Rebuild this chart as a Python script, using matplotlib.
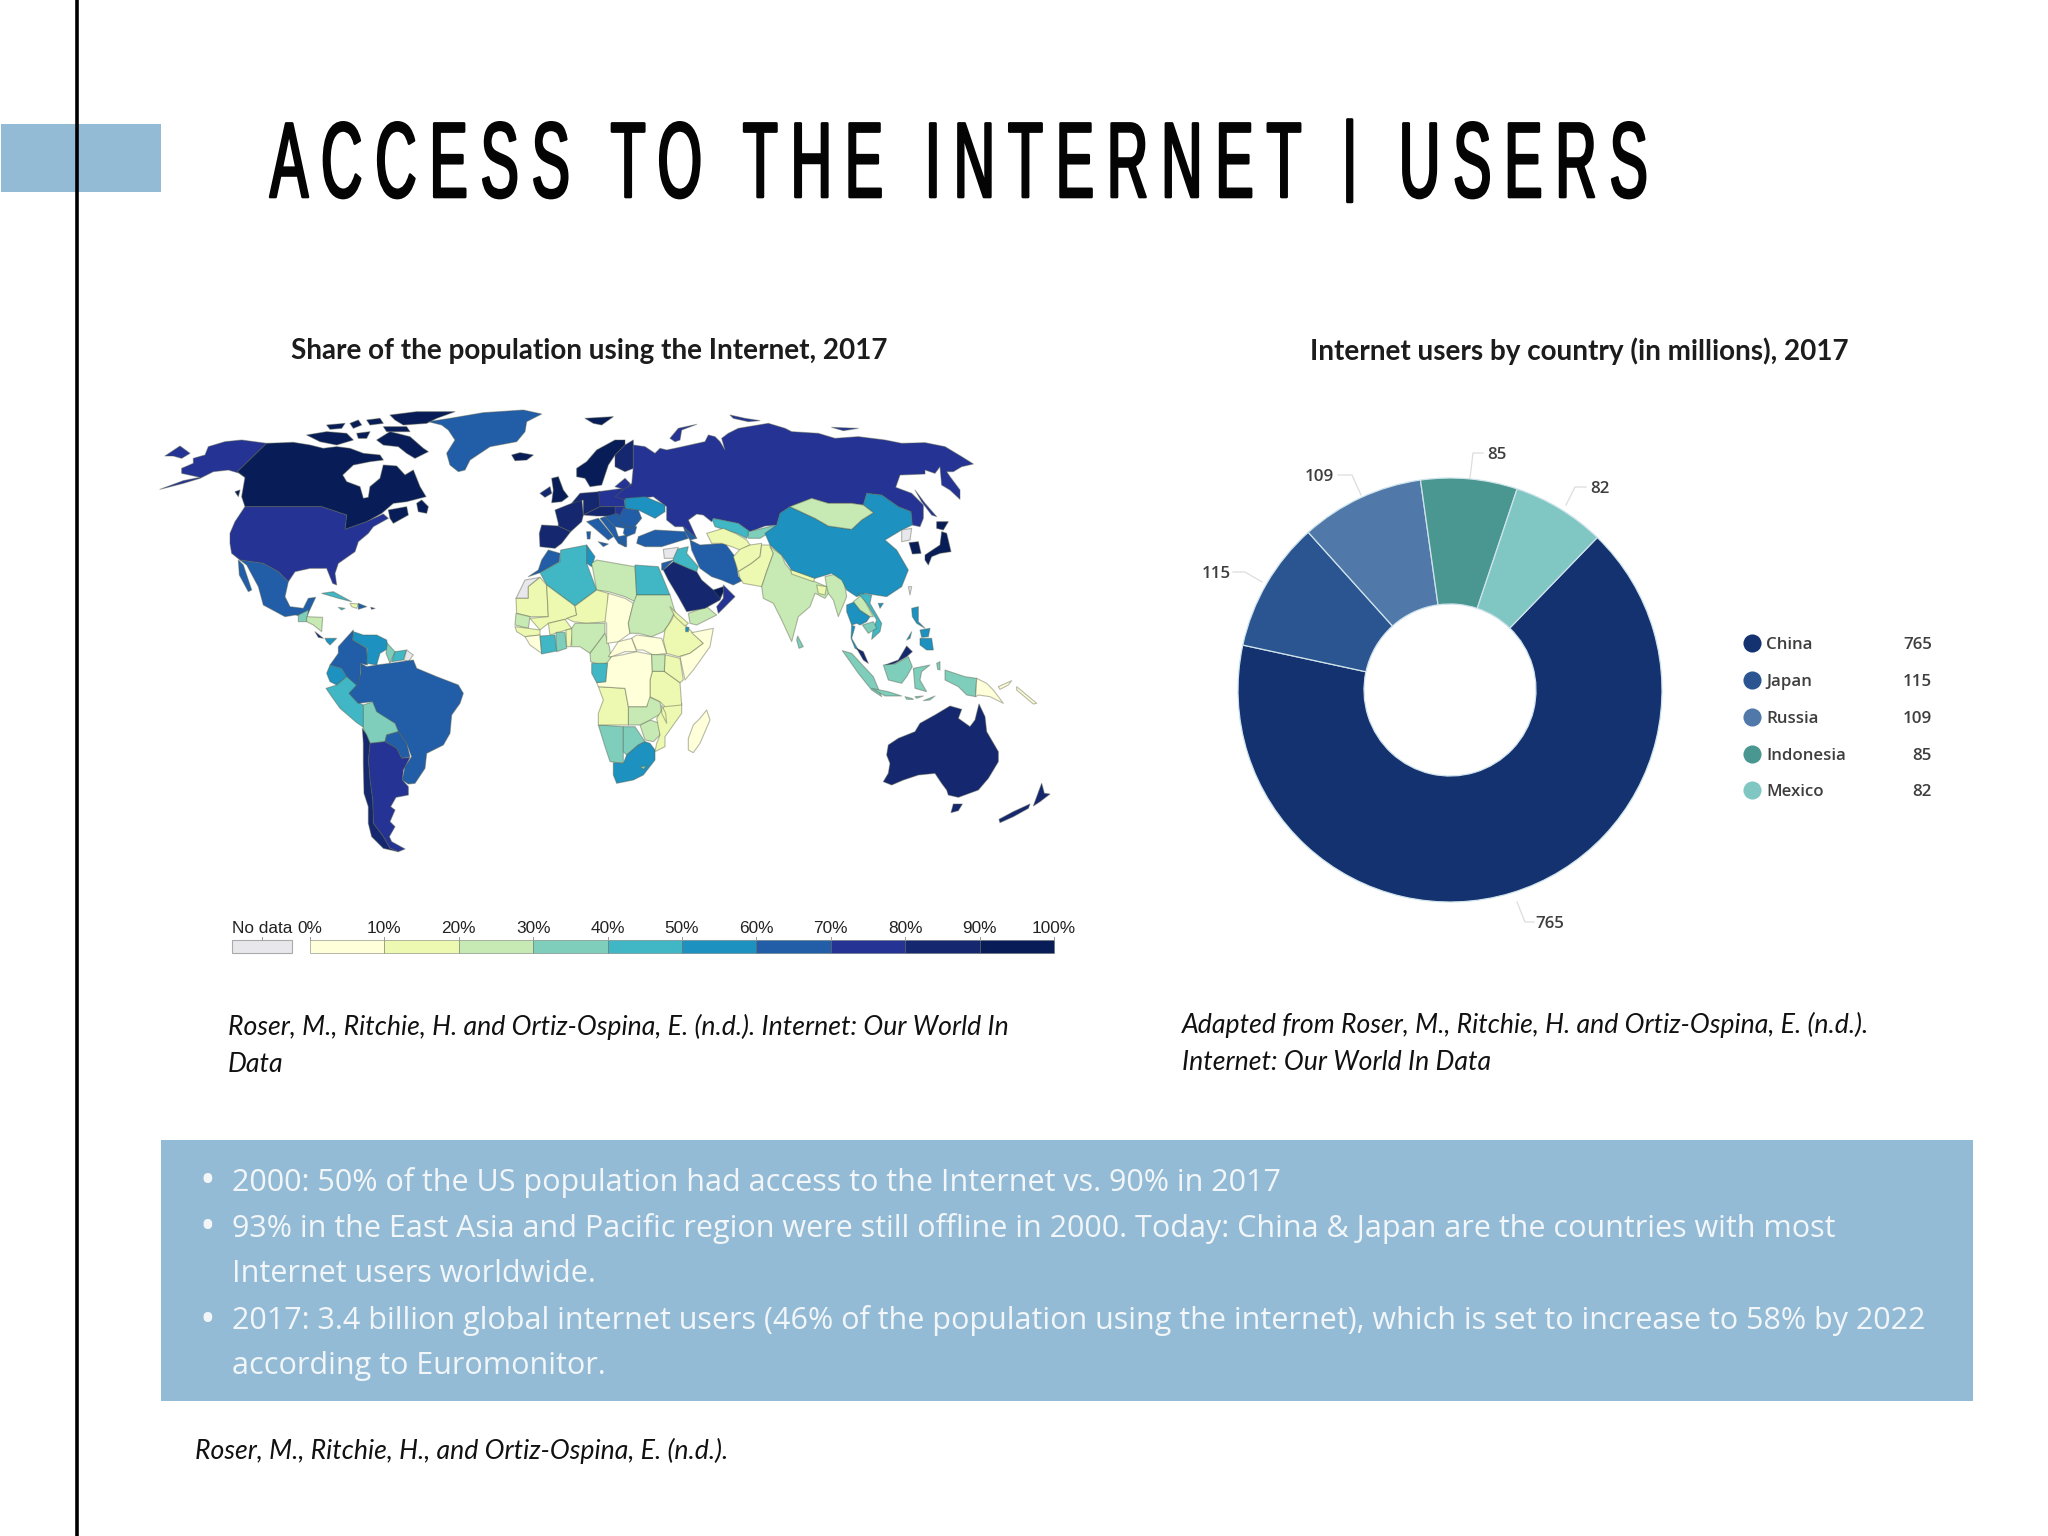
import bisect
import numpy as np
import matplotlib
matplotlib.use("Agg")
import matplotlib.pyplot as plt
from matplotlib.patches import Polygon, Rectangle
from matplotlib.colors import ListedColormap, BoundaryNorm
from matplotlib.font_manager import FontProperties
from matplotlib.patheffects import AbstractPathEffect
from matplotlib.path import Path
from matplotlib.textpath import TextPath
from matplotlib.transforms import Affine2D

W, H = 2048, 1536

# ---------- data ----------
TITLE = "ACCESS TO THE INTERNET | USERS"
MAP_TITLE = "Share of the population using the Internet, 2017"
DONUT_TITLE = "Internet users by country (in millions), 2017"
MAP_NOTE = ["Roser, M., Ritchie, H. and Ortiz-Ospina, E. (n.d.). Internet: Our World In", "Data"]
DONUT_NOTE = ["Adapted from Roser, M., Ritchie, H. and Ortiz-Ospina, E. (n.d.).", "Internet: Our World In Data"]
FOOT_NOTE = "Roser, M., Ritchie, H., and Ortiz-Ospina, E. (n.d.)."
BULLETS = ["2000: 50% of the US population had access to the Internet vs. 90% in 2017",
           "93% in the East Asia and Pacific region were still offline in 2000. Today: China & Japan are the countries with most",
           "Internet users worldwide.",
           "2017: 3.4 billion global internet users (46% of the population using the internet), which is set to increase to 58% by 2022",
           "according to Euromonitor."]
BULLET_LINES = [0, 1, 3]

donut_names = ["China", "Japan", "Russia", "Indonesia", "Mexico"]
donut_values = [765, 115, 109, 85, 82]
donut_colors = ["#14326f", "#2a5590", "#5079a9", "#4a9690", "#80c6c3"]

bin_edges = [0, 10, 20, 30, 40, 50, 60, 70, 80, 90, 100]
bin_labels = ["0%", "10%", "20%", "30%", "40%", "50%", "60%", "70%", "80%", "90%", "100%"]
bin_colors = ["#ffffd9", "#edf8b1", "#c7e9b4", "#7fcdbb", "#41b6c4", "#1d91c0",
              "#225ea8", "#253494", "#14276f", "#081d58"]
NO_DATA = "#e8e8ec"

# Territories: (share of population online or None, outline in source-graphic units)
americas = {
 "Alaska": (75, [(30,298),(100,272),(150,262),(95,250),(95,235),(130,220),(130,205),(165,195),(175,170),(225,155),(275,150),(350,160),(262,245),(285,262),(270,250),(235,240),(190,245),(150,265),(100,280)]),
 "Seward": (75, [(45,198),(90,168),(120,190),(95,205),(70,198)]),
 "Canada": (93, [(350,160),(430,157),(480,165),(520,175),(560,170),(600,175),(640,190),(690,195),(700,210),(660,215),(610,225),(578,255),(590,275),(630,290),(640,325),(655,322),(660,290),(690,265),(700,225),(740,228),(765,255),(790,240),(810,290),(828,320),(770,335),(730,340),(695,370),(650,395),(585,418),(590,375),(515,350),(285,350),(275,320),(285,262),(262,245)]),
 "Baffin": (93, [(680,150),(720,125),(780,140),(820,175),(835,185),(795,205),(770,190),(745,170),(700,165)]),
 "Victoria": (93, [(470,135),(530,125),(590,130),(610,150),(560,165),(510,155)]),
 "Banks": (93, [(530,105),(585,100),(575,115),(540,118)]),
 "Arctic1": (93, [(600,100),(625,90),(635,105),(610,115)]),
 "Ellesmere": (93, [(720,75),(800,65),(915,65),(860,85),(830,100),(760,105),(735,90)]),
 "Arctic2": (93, [(650,90),(690,85),(700,100),(660,105)]),
 "Arctic3": (93, [(700,110),(770,110),(780,125),(710,125)]),
 "Arctic4": (93, [(620,130),(660,125),(650,145),(625,145)]),
 "Newfoundland": (93, [(800,340),(815,330),(835,350),(830,370),(805,365)]),
 "Vancouver": (93, [(255,305),(270,300),(265,320)]),
 "Maritimes": (93, [(715,360),(770,350),(775,375),(730,400),(720,385)]),
 "USA": (75, [(240,430),(255,395),(285,350),(515,350),(590,375),(585,418),(650,395),(700,372),(715,385),(670,410),(655,430),(625,455),(615,485),(565,520),(555,550),(560,585),(548,580),(530,535),(480,535),(435,545),(415,575),(385,545),(340,520),(270,510),(245,490),(240,460)]),
 "Mexico": (64, [(270,510),(340,520),(385,545),(415,575),(405,620),(420,650),(460,655),(475,625),(497,622),(470,680),(435,675),(405,680),(340,645),(325,590),(290,525)]),
 "Baja": (64, [(265,510),(280,525),(305,600),(295,605),(268,555)]),
 "Guatemala": (35, [(445,675),(475,660),(470,695),(445,695)]),
 "Nicaragua": (25, [(470,680),(518,682),(515,725),(490,705),(470,695)]),
 "CostaRica": (85, [(495,725),(520,745),(505,742)]),
 "Panama": (55, [(525,745),(560,745),(540,765),(530,755)]),
 "Cuba": (45, [(515,610),(550,605),(605,635),(565,625)]),
 "Jamaica": (45, [(565,652),(585,655),(575,660)]),
 "Haiti": (10, [(600,640),(625,642),(620,655),(605,650)]),
 "Dominican": (65, [(625,640),(650,650),(625,658)]),
 "PuertoRico": (70, [(662,652),(675,655),(665,658)]),
 "Colombia": (62, [(565,770),(610,720),(608,750),(650,775),(652,825),(632,820),(630,860),(625,895),(590,860),(575,835),(540,825),(565,790)]),
 "Venezuela": (57, [(610,725),(640,735),(680,735),(710,750),(715,775),(690,790),(680,825),(650,820),(652,775),(608,750)]),
 "Guyana": (38, [(712,760),(735,785),(720,820),(708,790)]),
 "Suriname": (45, [(735,785),(770,780),(760,810),(725,815)]),
 "FrGuiana": (None, [(770,780),(790,795),(775,815),(762,810)]),
 "Ecuador": (57, [(540,825),(575,835),(590,860),(560,885),(540,875),(530,850)]),
 "Greenland": (68, [(835,95),(900,85),(1000,68),(1120,60),(1175,72),(1130,95),(1125,125),(1100,155),(1020,170),(960,210),(945,240),(925,245),(900,225),(890,190),(915,150),(895,120),(875,105)]),
 "Iceland": (98, [(1085,195),(1110,188),(1150,195),(1130,210),(1095,212)]),
 "Svalbard": (93, [(1305,85),(1390,80),(1355,105),(1330,100)]),
 "UK": (95, [(1205,265),(1225,260),(1240,300),(1255,320),(1235,335),(1205,338),(1210,300)]),
 "Ireland": (82, [(1170,310),(1200,290),(1205,310),(1185,322)]),
 "Iberia": (82, [(1175,405),(1225,408),(1262,425),(1235,460),(1215,475),(1170,470),(1168,430)]),
 "France": (82, [(1225,400),(1215,360),(1265,340),(1295,325),(1300,375),(1295,395),(1262,425),(1225,408)]),
 "Germany": (88, [(1265,340),(1290,310),(1350,305),(1350,350),(1300,375),(1300,330)]),
 "Poland": (75, [(1345,305),(1420,295),(1425,350),(1350,350)]),
 "Belarus": (72, [(1415,290),(1450,280),(1455,320),(1420,330)]),
 "Slovakia": (75, [(1395,350),(1430,350),(1425,385),(1395,378)]),
 "Austria": (80, [(1300,375),(1350,350),(1395,350),(1395,378),(1340,378)]),
 "Italy": (62, [(1310,395),(1345,385),(1390,440),(1375,450),(1340,420)]),
 "Hungary": (62, [(1365,380),(1400,370),(1425,385),(1425,415),(1395,410)]),
 "Balkans": (65, [(1350,385),(1365,380),(1395,410),(1405,440),(1425,450),(1425,470),(1405,460),(1385,430)]),
 "Bulgaria": (62, [(1425,405),(1460,410),(1455,430),(1430,440),(1420,430)]),
 "Greece": (68, [(1405,440),(1430,435),(1430,470),(1425,470)]),
 "Sardinia": (62, [(1310,425),(1322,425),(1320,447),(1312,447)]),
 "Sicily": (62, [(1345,455),(1375,462),(1360,470)]),
 "Scandinavia": (95, [(1280,235),(1310,215),(1340,180),(1395,150),(1425,150),(1425,165),(1395,195),(1375,225),(1355,285),(1320,290),(1305,265),(1280,260)]),
 "Finland": (88, [(1395,195),(1425,165),(1450,150),(1450,235),(1425,245),(1395,230)]),
 "Baltics": (78, [(1395,290),(1425,265),(1440,280),(1430,300)]),
 "Morocco": (62, [(1135,560),(1165,540),(1175,510),(1195,480),(1230,490),(1228,515),(1170,548)]),
 "WSahara": (None, [(1098,625),(1125,570),(1170,562),(1135,590),(1135,625)]),
 "Algeria": (48, [(1170,548),(1230,515),(1232,480),(1310,465),(1310,520),(1340,600),(1275,648),(1190,585)]),
 "Tunisia": (52, [(1310,465),(1335,500),(1325,530),(1310,520)]),
 "Libya": (22, [(1325,520),(1340,510),(1425,525),(1455,530),(1460,615),(1455,635),(1425,620),(1375,605),(1340,600)]),
 "Mauritania": (15, [(1098,625),(1135,625),(1135,590),(1170,562),(1190,585),(1195,680),(1140,680),(1100,670)]),
 "Mali": (12, [(1190,585),(1275,648),(1280,675),(1245,688),(1195,700),(1170,720),(1140,685),(1195,680)]),
 "Niger": (12, [(1275,648),(1340,600),(1375,610),(1370,695),(1310,700),(1270,695),(1250,685),(1280,675)]),
 "Senegal": (25, [(1098,670),(1140,680),(1135,715),(1095,705)]),
 "Guinea": (10, [(1095,710),(1135,715),(1170,720),(1170,735),(1125,740),(1100,725)]),
 "Liberia": (5, [(1125,740),(1170,735),(1175,790),(1140,765)]),
 "Burkina": (14, [(1195,700),(1245,688),(1265,715),(1200,735)]),
 "Ivory": (44, [(1170,738),(1215,735),(1220,783),(1175,792)]),
 "Ghana": (38, [(1218,727),(1245,727),(1250,775),(1220,785)]),
 "Benin": (10, [(1248,720),(1270,715),(1262,770),(1250,770)]),
 "Nigeria": (28, [(1265,715),(1275,700),(1365,700),(1365,730),(1340,765),(1320,790),(1290,770),(1265,770)]),
 "Cameroon": (23, [(1320,790),(1365,730),(1378,770),(1385,815),(1350,825),(1322,815)]),
}

eurasia = {
 "Chad": (6, [(-50,610),(0,625),(25,640),(10,700),(15,730),(-20,755),(-55,760),(-55,700),(-60,695)]),
 "Egypt": (45, [(30,525),(100,530),(135,615),(35,615)]),
 "Sudan": (28, [(35,615),(135,615),(150,665),(130,705),(115,725),(80,740),(40,730),(15,730),(10,700),(25,640)]),
 "SSudan": (6, [(35,735),(110,745),(125,790),(85,795),(55,780),(35,780),(20,745)]),
 "CAR": (5, [(-50,800),(-20,755),(20,745),(35,785),(0,785),(-40,800)]),
 "Ethiopia": (15, [(120,720),(140,690),(150,665),(185,710),(200,725),(235,760),(195,790),(160,800),(125,790),(115,750)]),
 "Somalia": (5, [(200,728),(265,715),(255,770),(205,840),(180,870),(165,800),(195,790),(235,760)]),
 "Eritrea": (10, [(135,650),(150,665),(190,700),(180,708),(150,680)]),
 "Djibouti": (55, [(182,712),(192,712),(190,725),(182,725)]),
 "Yemen": (25, [(190,670),(245,650),(275,675),(215,705),(195,700)]),
 "Saudi": (85, [(115,540),(145,515),(215,545),(230,570),(265,600),(295,605),(285,630),(240,655),(185,665),(160,620),(130,570)]),
 "Oman": (75, [(295,585),(330,620),(280,670),(275,650),(295,625)]),
 "UAE": (92, [(265,600),(295,590),(295,605),(285,625)]),
 "Iraq": (47, [(145,480),(190,470),(185,490),(220,530),(215,545),(190,535),(145,515)]),
 "Syria": (None, [(115,478),(160,472),(145,505),(118,505)]),
 "Jordan": (62, [(110,520),(145,510),(115,540),(110,540)]),
 "Iran": (62, [(195,450),(225,465),(300,460),(330,500),(340,560),(355,570),(325,585),(290,570),(260,560),(225,535),(200,480)]),
 "Turkey": (60, [(40,440),(90,420),(180,425),(190,445),(110,470),(60,470),(35,460)]),
 "Caucasus": (65, [(175,410),(215,445),(195,450),(180,425)]),
 "Russia": (76, [(25,165),(60,170),(90,190),(105,175),(125,180),(150,175),(240,155),(250,135),(270,140),(285,155),(300,180),(290,145),(310,130),(340,115),(430,100),(480,115),(500,125),(580,130),(630,145),(700,140),(780,150),(830,160),(900,158),(960,170),(1010,200),(1045,222),(1010,230),(985,245),(965,245),(975,260),(1005,300),(1005,328),(975,300),(950,285),(945,230),(930,250),(900,240),(900,252),(825,255),(812,292),(860,310),(895,345),(895,385),(885,410),(862,405),(858,365),(820,350),(770,315),(725,310),(715,345),(680,340),(610,340),(560,325),(495,350),(465,370),(455,405),(420,408),(375,425),(340,400),(265,385),(260,395),(235,375),(215,372),(190,390),(215,445),(175,410),(150,410),(125,390),(125,350),(85,320),(0,330),(-30,320),(0,295),(20,285),(25,230)]),
 "NovayaZ": (76, [(135,145),(160,115),(215,103),(170,120),(165,150),(150,155)]),
 "Severnaya": (76, [(315,75),(360,85),(405,92),(370,95),(325,85)]),
 "NewSiberia": (76, [(620,112),(700,115),(655,122)]),
 "Sakhalin": (76, [(870,300),(900,340),(935,380),(920,375),(890,335)]),
 "Ukraine": (55, [(0,325),(60,320),(120,345),(120,365),(90,385),(60,370),(40,360),(0,355)]),
 "Romania": (62, [(-5,355),(40,360),(50,385),(25,415),(-5,405),(-20,385)]),
 "Kazakh": (45, [(262,390),(265,385),(340,400),(375,425),(365,445),(335,430),(300,420),(270,410)]),
 "Kyrgyz": (33, [(370,425),(455,405),(430,430),(405,445),(370,445)]),
 "Uzbek": (15, [(245,430),(295,415),(335,432),(365,450),(375,465),(345,480),(320,470),(290,460),(260,460)]),
 "Afghan": (12, [(325,500),(345,478),(375,465),(410,460),(405,500),(380,520),(340,545)]),
 "Pakistan": (15, [(340,545),(380,520),(405,500),(410,465),(435,465),(445,490),(425,545),(410,590),(355,580),(345,565)]),
 "India": (27, [(435,470),(470,495),(480,520),(500,545),(570,575),(605,590),(625,585),(610,610),(600,625),(570,610),(555,650),(520,680),(500,755),(470,690),(445,640),(415,625),(410,590),(425,545),(445,490)]),
 "Myanmar": (25, [(600,560),(640,550),(655,560),(665,620),(640,680),(625,630),(610,610),(605,590)]),
 "Nepal": (12, [(497,538),(570,565),(565,575),(500,552)]),
 "Bangladesh": (15, [(575,585),(605,590),(600,615),(580,610)]),
 "SriLanka": (33, [(518,738),(535,770),(522,775),(515,750)]),
 "China": (54, [(420,430),(455,405),(465,370),(495,350),(570,385),(610,408),(680,418),(710,390),(745,368),(715,345),(725,310),(770,315),(820,350),(858,365),(862,405),(830,420),(780,450),(815,480),(850,540),(830,590),(785,620),(720,610),(695,620),(665,600),(650,570),(620,550),(570,565),(500,540),(470,495),(435,465)]),
 "Mongolia": (24, [(495,350),(560,325),(610,340),(680,340),(715,345),(745,368),(710,390),(680,418),(610,408),(570,385)]),
 "Taiwan": (None, [(850,590),(860,590),(855,615)]),
 "Hainan": (52, [(760,640),(775,640),(765,655)]),
 "NKorea": (None, [(830,420),(860,415),(855,450),(830,455)]),
 "SKorea": (95, [(852,458),(880,455),(888,490),(862,492)]),
 "Honshu": (92, [(900,495),(945,465),(950,425),(965,430),(978,485),(945,490),(920,500),(910,525),(900,510)]),
 "Hokkaido": (92, [(935,395),(970,395),(955,420),(935,415)]),
 "Thailand": (53, [(665,645),(690,635),(705,660),(735,680),(725,695),(705,705),(695,700),(680,705),(665,665)]),
 "Laos": (25, [(685,635),(710,615),(745,680),(735,680),(705,660)]),
 "Vietnam": (45, [(700,610),(740,615),(735,640),(770,700),(765,725),(740,748),(745,715),(755,690),(725,640)]),
 "Cambodia": (30, [(712,705),(745,695),(755,715),(730,730)]),
 "ThaiPen": (53, [(680,705),(690,710),(680,745),(700,780),(690,775),(678,745)]),
 "MalayPen": (82, [(695,775),(715,785),(730,820),(715,810)]),
 "Sumatra": (32, [(652,782),(680,790),(745,860),(770,920),(740,900),(700,850)]),
 "Sarawak": (82, [(780,825),(820,810),(845,768),(862,785),(845,800),(810,820),(785,828)]),
 "Kalimantan": (33, [(775,825),(810,822),(850,800),(862,830),(845,860),(830,880),(790,870)]),
 "Sulawesi": (33, [(865,835),(915,825),(890,845),(885,870),(905,905),(870,895)]),
 "Luzon": (56, [(860,655),(880,650),(880,695),(900,715),(875,700),(862,680)]),
 "Mindanao": (56, [(885,745),(920,745),(925,780),(905,780),(885,765)]),
 "Visayas": (56, [(885,720),(915,715),(910,740),(890,742)]),
 "Palawan": (56, [(845,750),(860,725),(855,745)]),
 "Moluccas": (33, [(935,820),(945,815),(945,840),(938,838)]),
}

south_america = {
 "Peru": (48, [(528,25),(560,15),(590,-10),(625,20),(600,40),(620,65),(640,75),(645,145),(620,128),(570,85),(545,50)]),
 "Brazil": (66, [(632,-50),(650,-40),(680,-45),(720,-50),(790,-60),(800,-35),(860,-10),(925,15),(940,40),(930,70),(905,105),(900,160),(880,195),(830,220),(825,265),(795,310),(775,312),(757,300),(765,260),(785,230),(770,190),(745,155),(735,130),(670,95),(665,65),(625,70),(597,40),(625,10),(632,-20)]),
 "Bolivia": (38, [(640,75),(668,65),(680,95),(735,130),(745,155),(710,165),(705,185),(660,190),(648,165),(640,145)]),
 "Paraguay": (65, [(705,185),(710,165),(745,155),(770,190),(780,230),(755,235),(740,205)]),
 "Argentina": (75, [(660,190),(705,185),(740,205),(755,235),(780,232),(760,270),(757,300),(775,320),(775,345),(738,352),(722,380),(735,390),(720,425),(735,440),(718,470),(725,485),(765,507),(745,515),(720,505),(700,470),(670,430),(668,360),(660,300),(655,240)]),
 "Chile": (85, [(637,145),(650,165),(660,190),(655,240),(660,300),(668,360),(670,430),(700,470),(720,505),(745,515),(700,505),(665,470),(655,430),(655,380),(642,340),(640,250),(640,190)]),
}

south_east = {
 "Java": (32, [(740,25),(790,35),(830,48),(780,48)]),
 "Sunda1": (32, [(840,50),(860,55),(865,58),(845,58)]),
 "Sunda2": (32, [(870,50),(895,48),(875,55)]),
 "Timor": (32, [(895,62),(930,48),(915,60)]),
 "WPapua": (33, [(960,-30),(1020,-10),(1055,-5),(1052,50),(1025,45),(1000,20),(960,0)]),
 "PNG": (8, [(1055,-5),(1085,10),(1105,30),(1135,70),(1095,50),(1060,45),(1052,50)]),
 "NewBritain": (8, [(1120,20),(1160,2),(1150,15),(1125,28)]),
 "Solomons": (9, [(1175,20),(1235,70),(1225,72),(1175,30)]),
 "Australia": (87, [(785,225),(790,195),(820,175),(870,155),(885,130),(930,105),(975,78),(1010,88),(1000,115),(1035,140),(1050,120),(1062,72),(1080,110),(1085,155),(1120,215),(1120,245),(1090,295),(1060,330),(1000,352),(970,345),(965,330),(950,310),(930,280),(880,285),(835,300),(800,315),(775,305),(790,280),(795,250)]),
 "Tasmania": (87, [(985,372),(1012,372),(1000,392),(978,398)]),
 "NZNorth": (89, [(1250,310),(1258,340),(1275,342),(1245,365),(1225,378)]),
 "NZSouth": (89, [(1215,372),(1210,385),(1165,410),(1125,428),(1122,418),(1165,395)]),
 "Madagascar": (8, [(245,90),(255,120),(225,190),(205,218),(190,210),(190,175),(205,135),(225,115)]),
 "Namibia": (36, [(-80,135),(-5,140),(-5,250),(-45,245),(-60,200)]),
 "Botswana": (38, [(-5,140),(30,140),(60,185),(40,195),(5,225),(-5,215)]),
 "SouthAfrica": (55, [(-35,248),(-5,250),(5,225),(40,195),(60,185),(75,190),(90,210),(90,240),(55,285),(25,300),(-25,310),(-35,285)]),
 "Lesotho": (30, [(45,260),(65,258),(55,268)]),
 "Zimbabwe": (23, [(45,135),(75,120),(105,130),(105,165),(85,185),(60,180)]),
 "Zambia": (27, [(10,80),(65,80),(70,50),(105,65),(110,100),(75,120),(45,135),(10,135)]),
 "Mozambique": (14, [(95,115),(120,75),(170,70),(170,100),(120,170),(120,200),(90,215),(95,190),(105,165)]),
 "Malawi": (12, [(110,75),(122,100),(125,130),(110,100)]),
 "Tanzania": (15, [(82,-26),(118,-26),(165,8),(170,75),(120,80),(105,65),(75,50),(75,0)]),
 "Angola": (13, [(-80,135),(-80,100),(-65,60),(-80,20),(0,25),(10,80),(10,135)]),
 "Congo": (7, [(-55,-50),(-40,-70),(-10,-75),(35,-85),(80,-76),(82,-26),(75,0),(75,50),(65,80),(10,80),(0,25),(-80,20),(-85,8),(-58,5)]),
 "Gabon": (48, [(-100,-50),(-52,-50),(-58,5),(-85,8),(-100,-20)]),
 "Kenya": (18, [(120,-76),(165,-65),(175,0),(165,8),(118,-26)]),
 "Uganda": (22, [(80,-76),(120,-76),(118,-26),(82,-26)]),
}
map_groups = [(americas, 0, 0), (eurasia, 1425, 0), (south_america, 0, 870), (south_east, 1425, 870)]


# ---------- helpers ----------
class Tracked(AbstractPathEffect):
    """Narrow each glyph of a single-line text and widen the gaps between them."""
    def __init__(self, text, prop, squeeze, gap_units, dx, lw, bar_limits):
        self.text, self.squeeze, self.gap, self.dx, self.lw = text, squeeze, gap_units, dx, lw
        self.bar_limits = bar_limits
        self.right = [TextPath((0, 0), text[:i + 1], size=100, prop=prop).vertices[:, 0].max()
                      for i in range(len(text))]

    def draw_path(self, renderer, gc, tpath, affine, rgbFace=None):
        v = np.array(tpath.vertices, float)
        c = tpath.codes
        starts = np.where(c == Path.MOVETO)[0]
        ends = np.append(starts[1:], len(c))
        for a, b in zip(starts, ends):
            real = v[a:b, 0][c[a:b] != Path.CLOSEPOLY]
            mid = 0.5 * (real.min() + real.max())
            idx = min(bisect.bisect_left(self.right, mid), len(self.text) - 1)
            v[a:b, 0] = v[a:b, 0] * self.squeeze + idx * self.gap
            if self.text[idx] == "|":
                v[a:b, 1] = np.clip(v[a:b, 1], *self.bar_limits)
        g = renderer.new_gc()
        g.copy_properties(gc)
        g.set_linewidth(self.lw)
        g.set_foreground(rgbFace)
        renderer.draw_path(g, Path(v, c), affine + Affine2D().translate(self.dx, 0), rgbFace)
        g.restore()


fig = plt.figure(figsize=(W / 100, H / 100), dpi=100, facecolor="white")
bg = fig.add_axes([0, 0, 1, 1])
bg.set_xlim(0, W); bg.set_ylim(H, 0); bg.axis("off")

BLUE = "#93bbd5"
bg.add_patch(Rectangle((1, 124), 160, 68, fc=BLUE, ec="none", zorder=1))
bg.plot([77, 77], [0, H], color="black", lw=2.6, zorder=2, solid_capstyle="butt")
bg.add_patch(Rectangle((161, 1140), 1812, 261, fc=BLUE, ec="none", zorder=1))

NARROW = ["Liberation Sans Narrow", "Liberation Sans", "DejaVu Sans"]
TFS = 77
title = bg.text(959, 197, TITLE, family=NARROW, fontsize=TFS, color="#040404", ha="center", va="baseline")
rend = fig.canvas.get_renderer()
ext = title.get_window_extent(rend)
GAP_PX = 13
squeeze = (1378 - GAP_PX * (len(TITLE) - 1)) / ext.width
unit_px = TFS / 100 * 100 / 72   # pixels per path unit
title.set_path_effects([Tracked(TITLE, FontProperties(family=NARROW), squeeze, GAP_PX / unit_px,
                                270 - ext.x0, 1.9, (-4.6, 75))])

bg.text(589, 351, MAP_TITLE, family="Lato", weight="bold", fontsize=20.1, color="#1c1c1c", ha="center", va="center")
bg.text(1579, 351, DONUT_TITLE, family="Lato", weight="bold", fontsize=20.1, color="#1c1c1c", ha="center", va="center")

NOTE = dict(family="Lato", style="italic", fontsize=19.2, color="#111111", ha="left", va="center")
for s, y in zip(MAP_NOTE, [1027, 1064]):
    bg.text(228, y, s, **NOTE)
for s, y in zip(DONUT_NOTE, [1025, 1062]):
    bg.text(1182, y, s, **NOTE)
bg.text(195, 1451, FOOT_NOTE, **NOTE)

line_y = [1182, 1228, 1274, 1321, 1366]
for i, (s, y) in enumerate(zip(BULLETS, line_y)):
    bg.text(232, y, s, family="Open Sans", fontsize=22, color="#f2f6f9", ha="left", va="center", zorder=3)
    if i in BULLET_LINES:
        bg.text(207, y, "\u2022", family="Open Sans", fontsize=30, color="#f2f6f9", ha="center", va="center", zorder=3)

# ---------- map ----------
cmap = ListedColormap(bin_colors)
norm = BoundaryNorm(bin_edges, cmap.N)
mp = fig.add_axes([150 / W, 1 - (390 + 580) / H, 950 / W, 580 / H])
mp.set_xlim(0, 2850); mp.set_ylim(1740, 0); mp.axis("off"); mp.patch.set_alpha(0)

for grp, dx, dy in map_groups:
    for name, (v, pts) in grp.items():
        fc = NO_DATA if v is None else cmap(norm(v))
        mp.add_patch(Polygon([(x + dx, y + dy) for x, y in pts], closed=True, fc=fc,
                             ec=(0.33, 0.36, 0.28, 0.42), lw=0.8, joinstyle="round"))

# map legend
LEG_X0, LEG_X1 = 480, 2712
unit = (LEG_X1 - LEG_X0) / 100
LY0, LY1 = 1650, 1688
for k in range(len(bin_colors)):
    x0 = LEG_X0 + bin_edges[k] * unit
    x1 = LEG_X0 + bin_edges[k + 1] * unit
    mp.add_patch(Rectangle((x0, LY0), x1 - x0, LY1 - LY0, fc=bin_colors[k], ec=(0.35, 0.38, 0.35, 0.45), lw=0.7))
for e, lab in zip(bin_edges, bin_labels):
    x = LEG_X0 + e * unit
    mp.plot([x, x], [LY0 - 10, LY0], color="#999999", lw=0.7)
    mp.text(x, 1616, lab, family="Liberation Sans", fontsize=12.4, color="#222222", ha="center", va="center")
mp.add_patch(Rectangle((246, LY0), 179, LY1 - LY0, fc=NO_DATA, ec="#aaaaaa", lw=0.8))
mp.plot([336, 336], [LY0 - 10, LY0], color="#999999", lw=0.7)
mp.text(336, 1616, "No data", family="Liberation Sans", fontsize=12.4, color="#222222", ha="center", va="center")

# ---------- donut ----------
CX, CY, R = 1450, 690, 212
px = 2 * (R + 8)
dn = fig.add_axes([(CX - px / 2) / W, 1 - (CY + px / 2) / H, px / W, px / H])
wedges, _ = dn.pie(donut_values, colors=donut_colors, startangle=46, counterclock=False, radius=R / (R + 8) * 1.1,
                   wedgeprops=dict(width=(R - 86) / (R + 8) * 1.1, edgecolor="#cfe3ea", linewidth=0.9))
dn.set_xlim(-1.1, 1.1); dn.set_ylim(-1.1, 1.1); dn.set_aspect("equal"); dn.axis("off")

LAB = dict(family="Open Sans", weight="semibold", fontsize=12.2, color="#3e3e3e", va="center", zorder=4)
label_pos = [(1550, 924), (1216, 574), (1319, 477), (1497, 455), (1600, 489)]
leaders = [[(1517, 902), (1525, 922), (1534, 922)], [(1262, 582), (1245, 572), (1233, 572)],
           [(1361, 495), (1352, 475), (1338, 475)], [(1470, 478), (1473, 453), (1483, 453)],
           [(1566, 505), (1575, 487), (1586, 487)]]
for v, p, l in zip(donut_values, label_pos, leaders):
    bg.text(p[0], p[1], str(v), ha="center", **LAB)
    bg.plot([q[0] for q in l], [q[1] for q in l], color="#dddddd", lw=0.9, zorder=3)

leg_y = [643, 680, 717, 754, 790]
for n, v, c, y in zip(donut_names, donut_values, donut_colors, leg_y):
    bg.scatter([1752], [y], s=170, color=c, zorder=4, linewidths=0)
    bg.text(1766, y + 2, n, ha="left", **LAB)
    bg.text(1932, y + 2, str(v), ha="right", **LAB)

fig.savefig("out.png", dpi=100, facecolor="white")
